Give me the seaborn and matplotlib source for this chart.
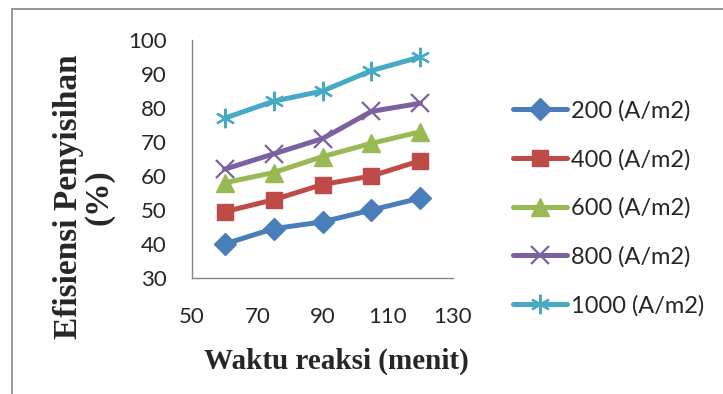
import matplotlib
matplotlib.use("Agg")
import matplotlib.pyplot as plt
import seaborn as sns
import pandas as pd
from matplotlib.lines import Line2D

waktu = [60, 75, 90, 105, 120]
series_names = ["200 (A/m2)", "400 (A/m2)", "600 (A/m2)", "800 (A/m2)", "1000 (A/m2)"]
s200 = [40, 44.5, 46.5, 50, 53.5]
s400 = [49.5, 53, 57.5, 60, 64.5]
s600 = [58, 61, 65.7, 69.6, 73]
s800 = [62, 66.5, 71, 79, 81.4]
s1000 = [77, 82, 85, 91, 95]
y_ticks = [30, 40, 50, 60, 70, 80, 90, 100]
x_ticks = [50, 70, 90, 110, 130]

colors = ["#4A7EBB", "#BE4B48", "#98B954", "#7D60A0", "#46AAC5"]
markers = ["D", "s", "^", "x", (6, 2, 0)]
msizes = [11, 12, 13, 13, 14]

rows = []
for name, vals in zip(series_names, [s200, s400, s600, s800, s1000]):
    for x, v in zip(waktu, vals):
        rows.append({"Waktu": x, "Efisiensi": v, "Seri": name})
df = pd.DataFrame(rows)

sns.set_theme(style="white")
plt.rcParams["font.family"] = ["Lato", "DejaVu Sans"]

fig = plt.figure(figsize=(7.23, 3.94), dpi=100)
ax = fig.add_axes([192/723, 1-278/394, (453-192)/723, (278-40)/394])

for name, c, m, ms in zip(series_names, colors, markers, msizes):
    sub = df[df["Seri"] == name]
    line_art = m in ("x", (6, 2, 0))
    sns.lineplot(data=sub, x="Waktu", y="Efisiensi", color=c, marker=m,
                 markersize=ms, markerfacecolor=c, markeredgecolor=c,
                 markeredgewidth=1.6 if line_art else 1.0,
                 linewidth=3.6, ax=ax, legend=False)

ax.set_xlim(50, 130)
ax.set_ylim(30, 100)
ax.set_xticks(x_ticks)
ax.set_yticks(y_ticks)
ax.tick_params(axis="x", length=0, pad=21, labelsize=16)
ax.tick_params(axis="y", length=0, pad=18, labelsize=16)
for s in ["top", "right"]:
    ax.spines[s].set_visible(False)
for s in ["left", "bottom"]:
    ax.spines[s].set_color("#868686")
    ax.spines[s].set_linewidth(1.0)
ax.set_xlabel("")
ax.set_ylabel("")

fig.text(336/723, 1-361/394, "Waktu reaksi (menit)", fontfamily="Liberation Serif",
         fontweight="bold", fontsize=21, ha="center", va="center")
fig.text(84/723, 1-197/394, "Efisiensi Penyisihan\n(%)", fontfamily="Liberation Serif",
         fontweight="bold", fontsize=24, ha="center", va="center", rotation=90,
         multialignment="center", linespacing=0.95)

handles = [Line2D([0], [0], color=c, lw=3.6, marker=m, markersize=ms,
                  markerfacecolor=c, markeredgecolor=c,
                  markeredgewidth=1.6 if m in ("x", (6, 2, 0)) else 1.0)
           for c, m, ms in zip(colors, markers, msizes)]
fig.legend(handles, series_names, loc="upper left", bbox_to_anchor=(513/723, 1-100/394),
           frameon=False, fontsize=17, handlelength=2.3, handletextpad=0.15,
           labelspacing=1.15, borderaxespad=0, borderpad=0)

# outer chart border (left and top visible)
fig.add_artist(Line2D([12/723, 12/723], [0, 1-9/394], color="#868686", lw=1.2,
                      transform=fig.transFigure))
fig.add_artist(Line2D([12/723, 1], [1-9/394, 1-9/394], color="#868686", lw=1.2,
                      transform=fig.transFigure))

fig.savefig("out.png", dpi=100)
